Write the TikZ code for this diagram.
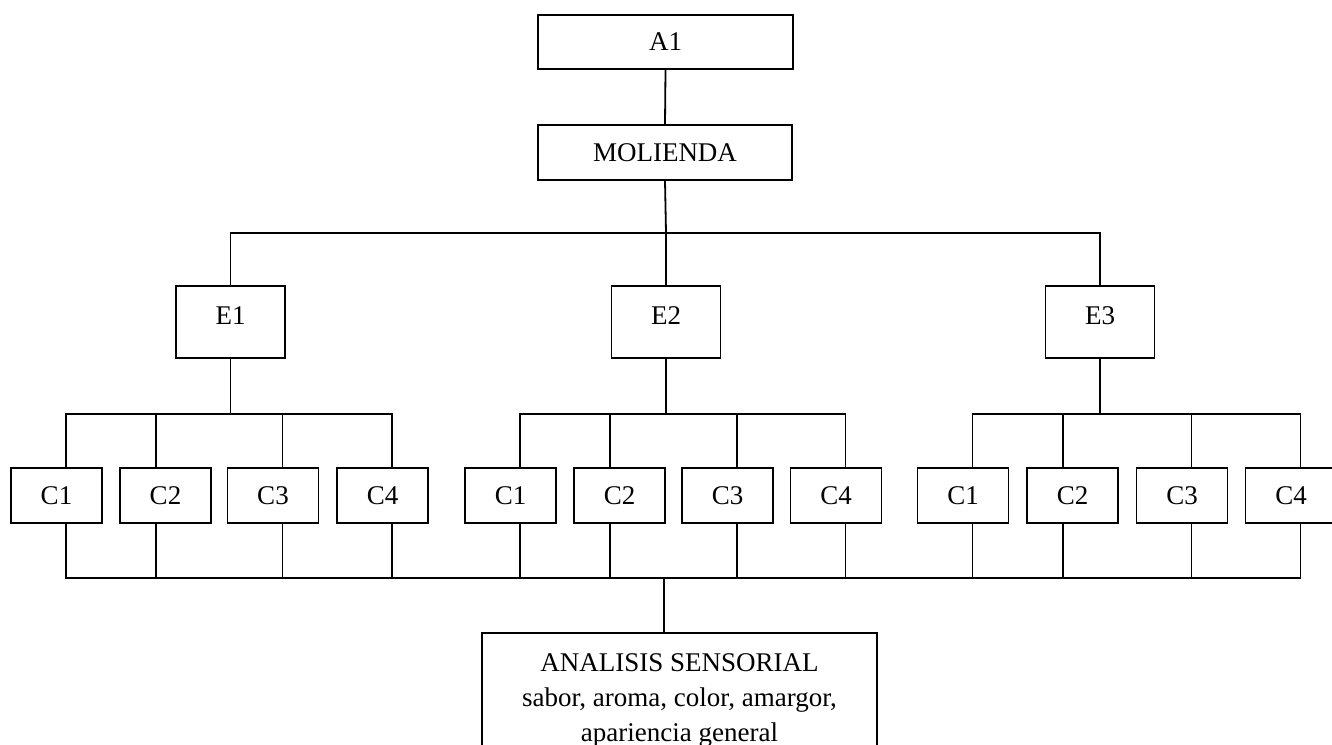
\documentclass[tikz,border=0pt]{standalone}
\usepackage{fontspec}
\setmainfont{Liberation Serif}
\begin{document}
\begin{tikzpicture}[x=1pt,y=-1pt,line width=1.8pt,
  box/.style={draw, rectangle, inner sep=0pt, font=\fontsize{27}{33}\selectfont},
  ebox/.style={box, minimum width=109pt, minimum height=72pt, text depth=12pt},
  cbox/.style={box, minimum width=91pt, minimum height=55pt}]
\useasboundingbox (0,0) rectangle (1332,744);
\fill[white] (0,0) rectangle (1332,744);
\clip (0,0) rectangle (1332,744);

% top of the tree
\node[box, minimum width=255pt, minimum height=54pt] (a1) at (665.5,42) {A1};
\node[box, minimum width=254pt, minimum height=55pt] (mol) at (665,152.5) {MOLIENDA};
\draw (a1.south) -- (mol.north);

% extraction level
\node[ebox] (e1) at (230.5,322) {E1};
\node[ebox] (e2) at (666,322) {E2};
\node[ebox] (e3) at (1100,322) {E3};
\coordinate (top) at (666,233);
\draw (mol.south) -- (top);
\draw (e1.north) |- (top) -| (e3.north);
\draw (e2.north) -- (e2.north |- top);

% C1..C4 under each E
\foreach \g/\xa/\xb/\xc/\xd in {1/56.5/165.5/273/382.5, 2/510.5/619.5/727.5/836, 3/963/1072.5/1182/1291} {
  \node[cbox] (c\g1) at (\xa,495.5) {C1};
  \node[cbox] (c\g2) at (\xb,495.5) {C2};
  \node[cbox] (c\g3) at (\xc,495.5) {C3};
  \node[cbox] (c\g4) at (\xd,495.5) {C4};
}
\foreach \g in {1,2,3} {
  \foreach \i/\d in {1/9.5,2/-9.5,3/9.5,4/9.5} {
    \coordinate (t\g\i) at ([xshift=\d pt]c\g\i.north);
    \coordinate (b\g\i) at ([xshift=\d pt]c\g\i.south);
  }
  \path (e\g.south) ++(0,55) coordinate (s\g);
}
\foreach \g in {1,2,3} {
  \draw (e\g.south) -- (s\g);
  \draw (t\g1) |- (s\g) -| (t\g4);
  \draw (t\g2) -- (t\g2 |- s\g);
  \draw (t\g3) -- (t\g3 |- s\g);
}

% collecting bar and final analysis
\node[box, anchor=north, minimum width=395pt, inner ysep=21pt, text depth=90pt,
      align=center, font=\fontsize{27}{35}\selectfont] (ana) at (679.5,632)
  {ANALISIS SENSORIAL\\sabor, aroma, color, amargor,\\apariencia general};
\coordinate (bot) at (664,578);
\draw (b11) |- (bot) -| (b34);
\foreach \g/\i in {1/2,1/3,1/4,2/1,2/2,2/3,2/4,3/1,3/2,3/3} {
  \draw (b\g\i) -- (b\g\i |- bot);
}
\draw (bot) -- (bot |- ana.north);
\end{tikzpicture}
\end{document}
